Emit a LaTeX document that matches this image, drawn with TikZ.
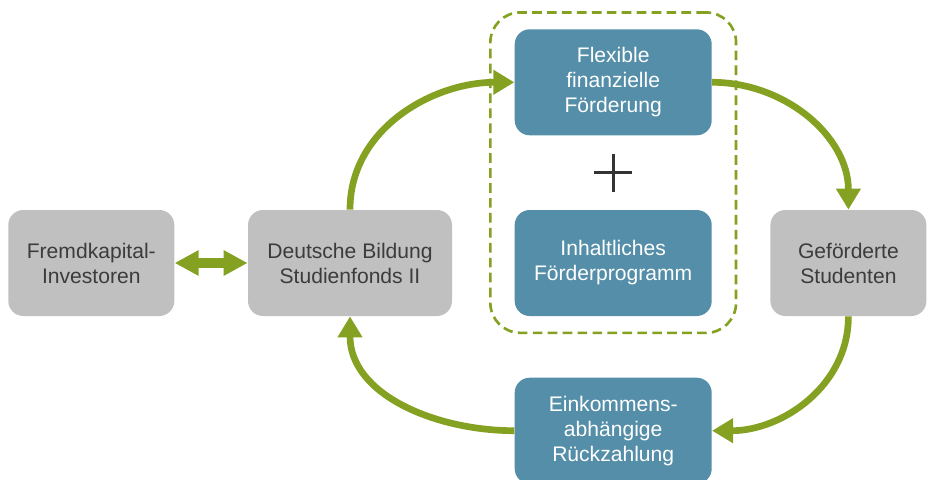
\documentclass[tikz,border=0pt]{standalone}
\usepackage{fontspec}
\setmainfont{Liberation Sans}
\usetikzlibrary{shapes, arrows.meta, positioning, calc, fit}
\definecolor{boxgray}{RGB}{192,192,192}
\definecolor{boxblue}{RGB}{84,142,168}
\definecolor{arrowgreen}{RGB}{132,161,34}
\definecolor{textgray}{RGB}{60,60,60}
\definecolor{plusgray}{RGB}{51,51,51}
\tikzset{
	graybox/.style={rectangle, rounded corners=0.3cm, fill=boxgray, text=textgray, align=center, minimum height=2.12cm, inner sep=2pt},
	bluebox/.style={rectangle, rounded corners=0.3cm, fill=boxblue, text=white, align=center, minimum width=3.94cm, minimum height=2.12cm, inner sep=2pt},
	dashbox/.style={draw=arrowgreen, line width=1.5pt, dash pattern=on 5.5pt off 3pt, rounded corners=0.6cm},
	cycle/.style={draw=arrowgreen, line width=3.8pt, -{Triangle[length=12pt, width=13.5pt]}},
	both/.style={draw=arrowgreen, line width=5.7pt, {Triangle[length=13.6pt, width=13.6pt]}-{Triangle[length=13.6pt, width=13.6pt]}}
}
\begin{document}
\begin{tikzpicture}[node distance=1.22cm and 1.24cm, font=\fontsize{12}{14.2}\selectfont]
	\useasboundingbox (-7.0,-4.32) rectangle (11.6,5.26);
	\node[graybox, minimum width=4.08cm] (deu)                   {Deutsche Bildung\\Studienfonds II};
	\node[graybox, minimum width=3.32cm, left =1.46cm of deu] (fremd) {Fremdkapital-\\Investoren};
	\node[bluebox, right =of deu] (inh)                          {Inhaltliches\\Förderprogramm};
	\node[bluebox, above =1.48cm of inh] (flex)                  {Flexible\\finanzielle\\Förderung};
	\node[bluebox, below =of inh] (eink)                         {Einkommens-\\abhängige\\Rückzahlung};
	\node[graybox, minimum width=3.12cm, right =1.16cm of inh] (gef) {Geförderte\\Studenten};
	\node[dashbox, fit=(flex)(inh), inner xsep=0.48cm, inner ysep=0.33cm] (group) {};
	\coordinate (plus) at ($(flex.south)!0.5!(inh.north)$);
	\draw[plusgray, line width=1.7pt] ($(plus)+(-0.38,0)$) -- ($(plus)+(0.38,0)$)
		($(plus)+(0,-0.38)$) -- ($(plus)+(0,0.38)$);
	\draw[both] (fremd) -- (deu);
	\foreach \from/\to/\o/\i in {deu.north/flex.west/90/180, flex.east/gef.north/0/90, gef.south/eink.east/-90/0, eink.west/deu.south/180/-90}
		\draw[cycle] (\from) to[out=\o, in=\i] (\to);
\end{tikzpicture}
\end{document}
